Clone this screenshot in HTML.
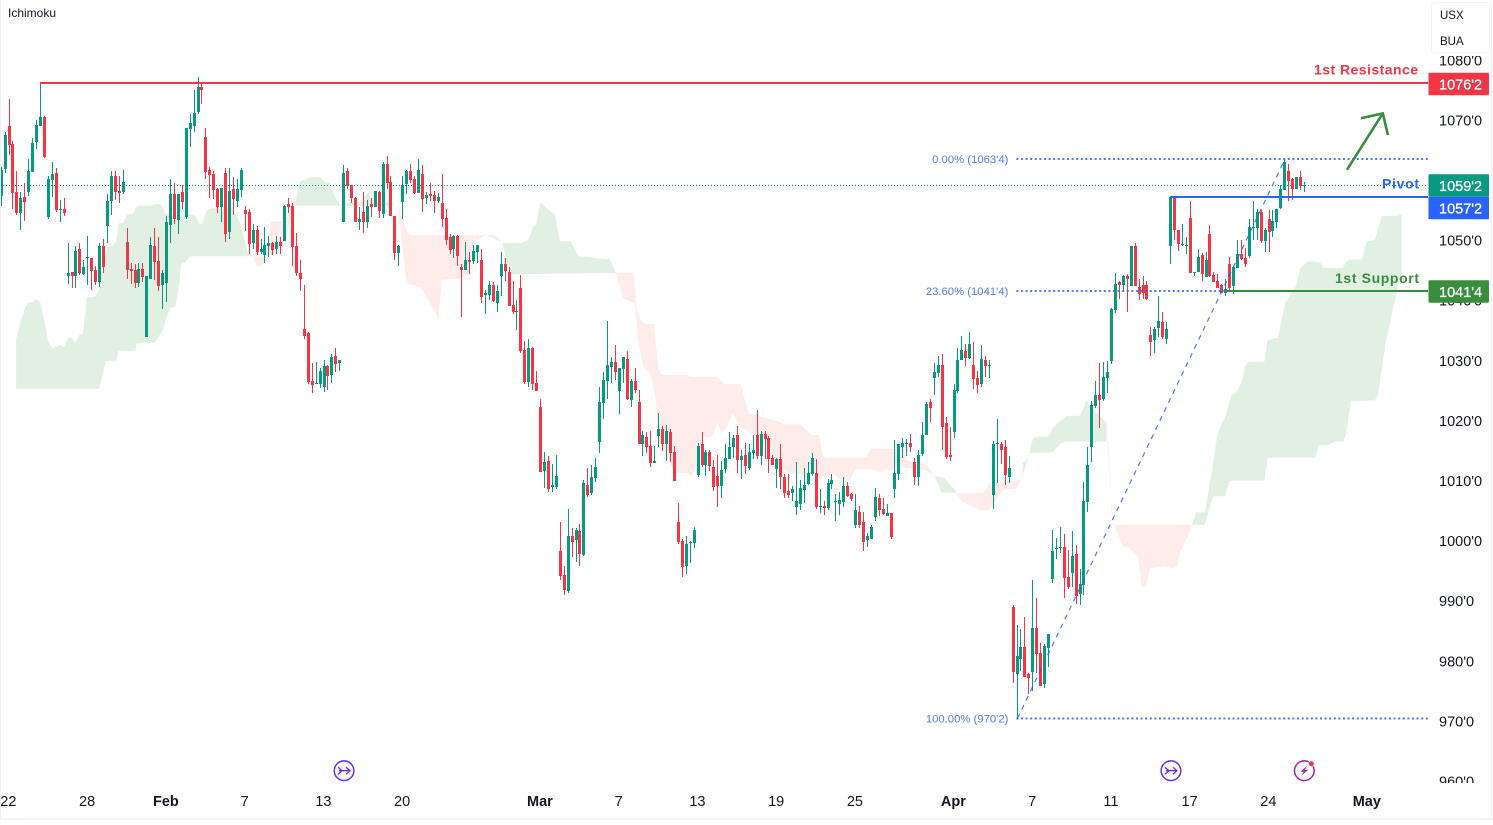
<!DOCTYPE html>
<html lang="en">
<head>
<meta charset="utf-8">
<title>Ichimoku chart</title>
<style>
html,body{margin:0;padding:0;background:#fff;width:1493px;height:825px;overflow:hidden}
svg{display:block}
text{font-family:"Liberation Sans",sans-serif}
</style>
</head>
<body>
<svg id="chart" xmlns="http://www.w3.org/2000/svg" width="1493" height="825" viewBox="0 0 1493 825">
  <defs><clipPath id="axis-clip"><rect x="1429" y="56" width="64" height="727"></rect></clipPath></defs>
  <rect x="0" y="0" width="1493" height="825" fill="#ffffff"></rect>
  <g id="cloud"></g>
  <g id="price-line"></g>
  <g id="candles" shape-rendering="crispEdges"></g>
  <g id="fib"></g>
  <g id="levels"></g>
  <g id="arrow" fill="none" stroke="#388e3c" stroke-width="2.6"></g>
  <g id="y-axis" clip-path="url(#axis-clip)"></g>
  <g id="axis-tags"></g>
  <g id="x-axis"></g>
  <g id="events"></g>
  <text x="8" y="17" font-size="12" fill="#131722">Ichimoku</text>
  <g>
    <rect x="1431.5" y="2.5" width="58" height="50" rx="4" fill="#ffffff" stroke="#f0f3fa"></rect>
    <text x="1440" y="19" font-size="11.5" fill="#131722">USX</text>
    <text x="1440" y="45" font-size="11.5" fill="#131722">BUA</text>
  </g>
  <rect x="0" y="0" width="1" height="819" fill="#eef0f5"></rect>
  <rect x="0" y="818" width="1493" height="2" fill="#f0f3fa"></rect>
  <rect x="1491" y="0" width="1" height="819" fill="#f0f3fa"></rect>
</svg>
<script>
const opens = [
1057.4,1061.9,1069,1066,1058,1054.5,1057.2,1058,1061.3,1066.3,
1069,1070.5,1053.8,1060,1061.2,1055,1055.2,1044,1044.7,1044,
1048.5,1044.3,1047,1047,1045,1043,1049,1052.3,1056.5,1060.7,
1058.2,1058,1049.7,1045.2,1045,1042.8,1045.2,1033.8,1043.5,1049,
1046.5,1042.5,1042.8,1052.5,1057.7,1053.3,1058,1053.8,1068.5,1069,
1071.3,1075.5,1067.2,1061.7,1061,1058.5,1055.5,1061.2,1051.3,1058.5,
1056.5,1058.3,1055,1054.7,1049.5,1051.7,1048,1047.5,1049,1049.5,
1048.5,1049.7,1049.8,1056,1055.7,1049,1044.5,1035.2,1034.5,1026.5,
1026,1026,1025.5,1029,1027.5,1030.7,1029.5,1053,1061.5,1059.2,
1057,1053,1054.7,1053,1056,1055.5,1058,1054.3,1062.7,1059.7,
1054,1047.8,1056.3,1059.3,1061.5,1060.2,1057.8,1061,1057,1057.7,
1057.5,1056.5,1056.2,1053.7,1050.5,1048.5,1050.7,1045.5,1045,1046.7,
1046.5,1048,1046.7,1040.8,1040.8,1042.5,1039.5,1044,1046,1044.7,
1039.2,1038,1042,1031.7,1026.3,1032,1026.2,1022.2,1011.5,1013.2,
1008.8,1008.8,998.2,994.2,991.5,1000.7,1000,1001.5,997.5,1009.2,
1007.8,1010.3,1016.3,1022.8,1026.5,1028.8,1029.7,1024.8,1028.5,1030.2,
1023.3,1026.5,1023,1016,1017.2,1015.7,1012.8,1017.3,1018.5,1016,
1018,1014.7,1003,999.8,995.7,999.5,999.5,1010.8,1016,1012.5,
1014.7,1012.2,1010.7,1009,1011.8,1013.5,1015.5,1017.5,1013.3,1014.2,
1012,1014.5,1017.5,1014,1017.7,1017,1013.7,1011.8,1013.5,1010.5,
1008.2,1007.8,1005.5,1006,1008.3,1009.3,1011,1011.2,1005.5,1005.7,
1005.3,1009.3,1006.3,1006,1006.3,1009,1007.7,1002.5,1004.7,1003,
1000,1000.2,1003.8,1007,1005.2,1004,1004.5,1008.5,1011,1015.5,
1016,1016.2,1013,1010.5,1014.3,1017.5,1023,1027,1027.8,1029.2,
1019.5,1014.2,1018,1024.8,1030,1031.5,1030.3,1029.2,1027,1026,
1030,1029,1007.5,1016,1016,1015.5,1010.5,988.8,977.7,980.2,
982.2,977.7,978,985.3,981.2,976,982,993.5,998.5,998.7,
998.8,993.8,994.5,997.7,991,992.5,1006.3,1015.5,1022.3,1024.2,
1023.5,1027,1029.8,1038.3,1043,1042.5,1044,1042.3,1049,1042.2,
1042.5,1042.5,1034.2,1033.3,1035.3,1036.3,1033.5,1049,1057.2,1051.7,
1049.2,1049,1053.7,1044.5,1044.7,1047.5,1043.8,1051,1044.2,1043.2,
1042.5,1041.2,1046,1042.3,1045.3,1047.7,1047,1047.3,1052,1052,
1054.7,1049.8,1053.5,1051.5,1053,1055.3,1058.3,1061.5,1060.2,1058.5,1060.5,1059];
const closes = [
1061.7,1067.5,1065.8,1057.9,1054.5,1057,1056.3,1061.5,1066.2,1069.2,
1070.5,1063.8,1060.2,1061,1055,1055.2,1054.5,1044.5,1044,1048.2,
1044.5,1045.5,1047.2,1044.8,1043,1049,1045.5,1056.5,1060.7,1058,
1057.8,1059.7,1045,1044.8,1042.8,1045.2,1043.8,1044,1049.2,1046.3,
1042.3,1044.5,1053,1057.7,1053.5,1057.7,1056.3,1068.7,1069.5,1071.2,
1075.5,1075,1061.3,1060.8,1058.3,1055.5,1058.7,1051,1058.2,1056.8,
1058.5,1061.7,1054.3,1049.3,1051.7,1048,1048.5,1049.2,1049.5,1048.3,
1049.7,1049,1055.7,1055.5,1048.8,1044.5,1043.5,1034,1026.3,1025.8,
1026.2,1028.2,1029,1027.3,1030.5,1029.3,1030,1061.2,1059,1057,
1053,1053.5,1053,1055.7,1055.5,1058.2,1054.8,1062.7,1059.5,1054,
1047.8,1049,1059.2,1061.5,1060,1057.8,1061.7,1056.8,1057.5,1057.3,
1056.5,1057.2,1053.5,1050,1048.3,1050.7,1047.3,1045,1046.7,1046.3,
1048.2,1049.2,1040.5,1041.2,1042.5,1039.8,1041.5,1046,1044.8,1039,
1038,1038.2,1031.5,1026.3,1032,1026,1024.8,1011.3,1013,1008.5,
1009.2,1010.7,994,991.7,1000.7,999.7,1001.7,997.7,1009.5,1007.5,
1010.5,1012.2,1023,1026.7,1029.2,1029.7,1028,1028.7,1030.5,1023.5,
1026.5,1025,1016,1017.5,1015.5,1012.8,1013.2,1018.5,1016,1018.2,
1014.5,1009.8,999.7,995.5,999.3,999.7,1001.7,1015.7,1012.5,1014.7,
1012.3,1008.8,1009,1011.7,1013.7,1015.5,1017,1013.3,1014,1012.3,
1014.7,1015,1014,1017.7,1016.8,1013.5,1012.5,1013.5,1010.5,1007.8,
1007.5,1008.5,1006.5,1008.7,1009.2,1011.2,1013.7,1005.5,1005.7,1005.3,
1009.5,1010,1006.5,1006.7,1009,1007.3,1006.8,1005,1002.5,999.7,
1000.7,1002.2,1007.2,1005,1004.3,1004.5,1000.5,1011.2,1016,1016.2,
1016.2,1015.5,1010.5,1014.2,1017.5,1022.7,1022,1028,1029.2,1018.8,
1013.8,1013.8,1025,1030,1031.7,1030.3,1032.7,1026.8,1025.8,1030.2,
1029,1029.2,1016,1016.2,1015,1010.8,1012,978,980.7,982.2,
977.2,977,985.3,981,975.7,982.3,984.3,998.2,998.7,998.8,
993.7,992.2,997.3,990.7,992.7,1006.5,1012.5,1022.5,1024.2,1023.3,
1027.2,1028,1038.5,1042.7,1042.5,1044,1043.5,1049,1042.3,1041,
1041.2,1040.2,1033,1035.2,1036.5,1033.8,1035.2,1057.2,1051.7,1049.3,
1049.3,1049.2,1044.5,1044.7,1047.2,1044.3,1046.7,1044,1043,1042,
1041.2,1041.8,1042,1045.5,1047.7,1046.8,1046,1052.2,1052.2,1054.7,
1049.8,1051.7,1051.3,1053.2,1055.2,1058.5,1063,1059.8,1058.5,1060.5,1059,1059.2];
const highs = [
1062.1,1068,1073.5,1066.5,1061.5,1058,1059.5,1063.5,1067,1070,
1076.3,1070.7,1060.7,1063,1062,1056.7,1057,1049.5,1044.7,1049,
1049.5,1046.7,1050.7,1047,1045.7,1049.5,1050.2,1057.7,1061.5,1061.5,
1060.7,1061.7,1052,1046.2,1046,1046.2,1046.2,1044,1050.5,1052,
1050.5,1045,1054,1060.2,1059.5,1057.7,1059.2,1068.7,1071,1075,
1077.2,1076,1068.7,1062.2,1061.5,1058.7,1058.7,1062,1062,1060.5,
1060.2,1062,1055.7,1055.2,1052.7,1052.3,1050.2,1052.2,1050.7,1049.7,
1050.7,1050.5,1055.8,1057,1056.2,1051.2,1046.7,1042.5,1034.7,1029.5,
1029.7,1028.7,1030,1029.2,1031,1032,1030,1062.5,1062,1059.2,
1057.2,1055.5,1058,1056.7,1057,1058.2,1058.2,1063,1064,1060.7,
1054,1049.2,1060.7,1061.7,1062.7,1060.7,1063.5,1062.5,1058,1059.5,
1058.2,1057.8,1061,1055.2,1051,1050.8,1050.8,1046,1049.7,1048,
1049.2,1049.2,1048.5,1041.7,1043.2,1043,1042.5,1048,1047,1045.5,
1043.2,1040,1044.2,1033.2,1033.5,1032.2,1028.2,1023.5,1014.7,1014,
1012.7,1014.2,1003,995.7,1005.2,1002,1002,1002.7,1010,1012,
1012.5,1013.7,1025.5,1028,1036.5,1030.5,1032.5,1028.7,1030.5,1031.5,
1026.8,1028.7,1025,1018.2,1018,1018.2,1015.7,1021.2,1019,1019.2,
1018.5,1015.7,1006.2,1000.2,1000.7,999.8,1002.2,1016.2,1018,1015,
1015,1013.3,1014.2,1013.2,1016,1018,1017.5,1019,1015,1016.2,
1016,1017.5,1021.7,1018.2,1018.2,1017.3,1014.2,1013.7,1016,1011,
1011,1009,1013,1010,1012,1013,1014.5,1013.5,1008.5,1006.5,
1010.2,1011,1007.7,1008,1010.5,1009.7,1007.8,1007.7,1005.7,1004.7,
1001.2,1002.5,1008.7,1007.7,1007,1006,1004.5,1016.7,1016,1017,
1016.8,1017.7,1013.7,1015,1019.7,1023,1023.5,1029.5,1030.7,1031,
1020.5,1018.8,1026,1032,1034,1032.7,1034.7,1033,1028.2,1032.5,
1030.7,1030,1016.5,1020.2,1016.3,1016.7,1014,989.2,985.8,985.2,
987.2,977.8,993.3,990.3,982.8,982.7,984.3,1001.7,1000.3,1002.2,
1001,998.3,1001.5,999.2,995.2,1009.7,1015.5,1023.2,1026.5,1029.5,
1029.7,1029.8,1038.6,1044.5,1043.2,1044.2,1044.3,1049,1049.5,1043.5,
1044,1043.2,1035.5,1035.5,1040.7,1038,1036.3,1057.3,1057.2,1051.7,
1052.7,1050.5,1056.5,1044.7,1048.5,1047.8,1048,1052.5,1044.7,1044.3,
1042.7,1043.5,1047.2,1045.7,1050,1050,1048.7,1053.5,1056.5,1055.2,
1055,1052,1055,1055,1055.2,1059.2,1063.5,1062.7,1060.3,1060.5,1061.5,1059.7];
const lows = [
1055.6,1061.1,1064.2,1055.2,1054.1,1051.7,1053.2,1057.3,1061.3,1065.2,
1069,1063.7,1053.5,1057.2,1054.7,1053,1054,1042.7,1042,1042,
1044.2,1044.2,1042.5,1041.7,1042.5,1042.2,1044.5,1049.5,1054.2,1056.7,
1056.2,1057.7,1043.5,1042.7,1042,1042.2,1043,1033.8,1043.5,1043.3,
1041.5,1038.5,1039.7,1049.5,1052.7,1051,1055.2,1053.5,1065.5,1068,
1071,1072.7,1060.2,1057,1056.8,1054.5,1053,1049.7,1050.2,1054.2,
1055.5,1057.2,1051.5,1047.7,1048.5,1047.5,1047.7,1046.2,1047.2,1047.5,
1047.7,1047.7,1049.8,1054.5,1045.7,1044,1041.5,1033.5,1026,1024.5,
1026,1025.3,1024.7,1025,1026.2,1028,1028.2,1053,1058.5,1056.2,
1053,1051.7,1051.2,1052,1053.8,1055.5,1053.7,1053.7,1058.5,1054,
1046.7,1045.7,1053.5,1057.7,1059.5,1057.7,1057.8,1054.7,1056,1056.5,
1054.5,1056.2,1052.2,1049.2,1047.7,1047,1045.7,1037.2,1045,1044.3,
1046,1046.2,1039.5,1037.7,1040,1039.7,1038,1040.7,1043.2,1039,
1037.7,1035,1031.2,1026,1025.5,1025,1024.8,1011.3,1008.7,1008,
1008,1008.5,993.3,990.8,991.2,997.2,996.3,995.7,997.3,1007.2,
1007.5,1009.7,1014.5,1020.2,1023.5,1026.2,1026.7,1021,1026.2,1023.3,
1022.2,1024.5,1016,1014,1014.5,1012.2,1012.8,1015.5,1014.8,1013.2,
1013,1009.8,999.3,993.8,994.3,996.2,998.7,1010.5,1012.2,1010.7,
1011.5,1008.2,1005.5,1007,1011.2,1013.5,1013.7,1011.2,1010.2,1011,
1011.7,1013.5,1013.5,1012.5,1013.5,1011.2,1012.5,1008.7,1008.5,1007,
1007,1006.5,1004.2,1005,1006.2,1009.2,1010.7,1005.2,1004.5,1004.2,
1005,1008.5,1003.2,1004.2,1005.5,1007.2,1006.5,1002,1002,998.2,
998.8,1000.2,1003.2,1004,1004.2,1004,1000.2,1007,1010,1013.7,
1014,1014.7,1009.2,1009,1014,1017.5,1019.7,1024.2,1027.2,1015,
1013.5,1013.2,1017,1024.5,1030,1029,1030.2,1025.2,1024.5,1025.5,
1027.2,1027,1005.2,1009.5,1012.7,1009.2,1009.5,976.2,970.2,978.2,
977.2,974.3,974.8,977.8,975.7,975.3,978.8,992.8,996.8,997.8,
990.3,991.8,992.2,989.3,989.2,990.8,1004.7,1013,1022,1018.7,
1023.2,1024.5,1029.4,1037.8,1040.2,1041.7,1038,1042.3,1042.3,1040,
1040.2,1040,1030.7,1031.2,1033.8,1033.5,1032.7,1046,1050,1048.2,
1049,1047.7,1044.5,1044,1044.7,1043.2,1043.8,1043.8,1043,1042,
1041.2,1040.7,1041.5,1041,1045.3,1046.7,1045.5,1047,1050,1050,
1049.5,1048,1048,1050.5,1052,1055.2,1058.3,1056.5,1056.7,1058.5,1058.3,1058];

/* Ichimoku cloud outlines: bar index and price pairs, null separates polygons */
const bullCloudBars = [
3.7,4.7,6,6.7,8,8.8,9.8,10.8,11.8,12.8,13.8,14.9,15.9,16.9,17.9,18.7,19.9,20.7,21.7,23.7,24.8,26.8,28.3,29.1,29.8,30.9,31.9,33.4,34.4,37.7,39,40.5,41.5,44.1,47.9,49.4,50.2,50.9,52.2,53,58.5,60,61.1,62.4,63.9,47.9,46.6,45.6,44.8,44.1,43,42,40.8,38.7,34.4,33.9,29.8,29.1,26.5,24.8,3.7,null,
74.3,75.8,78.4,80.9,82.2,83.4,84.7,86,87.7,91,93.1,94.3,99.2,99.7,null,
127.2,132.1,133.8,134.9,135.8,136.8,138.5,140.6,141.8,144.6,146.5,149,150.3,154.5,156.1,129.1,128,null,
237,239.6,242.7,238.8,null,
259.1,259.4,260.7,262,263,265.8,267,270.5,273.9,275.6,276.4,280.7,280.7,270.1,268.8,267,261.2,null,
302.3,303.5,305.6,306.7,307.7,308.7,309.9,310.7,312.4,313.7,315,315.8,316.7,320.7,321.5,324.2,326,327.7,329,329.8,331.8,334.9,335.6,340.4,342,345.5,346.7,348.8,350.5,354.7,355.6,355.6,353.5,351.4,350.5,349.7,348.8,342.7,341.6,340.8,338.7,336.6,334.6,333.6,321.6,320.7,312.4,311.8,310.7,307.7,305.6];
const bullCloudPrices = [
1033.5,1036.2,1038.7,1039.5,1039.7,1040.2,1039.7,1037,1033.3,1032,1032.2,1032.5,1032.2,1033.7,1033.7,1032.8,1034.3,1034.3,1040.5,1040.5,1041.7,1048.8,1049,1049.7,1052.8,1052.8,1054.3,1054.3,1055.7,1055.7,1056,1056,1054.5,1053.8,1054.3,1054,1052.7,1052.7,1055,1055.3,1055.3,1053.8,1051.7,1048.2,1047.3,1047.3,1046.2,1046,1041.2,1038.8,1038.7,1037.2,1034.7,1032.8,1032.8,1031.5,1031.5,1029.8,1029.8,1025.2,1025.2,null,
1055.7,1059.7,1060.5,1060.5,1059.5,1059.5,1057.2,1055.7,1056.3,1056.3,1058,1056.3,1056.3,1055.7,null,
1049.5,1049.5,1050,1052.2,1052.5,1056.3,1055.3,1054.2,1049.8,1049.8,1047.3,1047.2,1047,1046.8,1044.5,1044.3,1047.2,null,
1010.7,1010.3,1007.9,1007.9,null,
1010.3,1012.8,1013.7,1017,1017.2,1017.2,1018.7,1020.7,1020.7,1023.3,1022.3,1019.5,1016.4,1016.4,1016,1014.6,1014.5,null,
1002.5,1004.6,1004.6,1008.9,1012.8,1017.2,1019.5,1020.3,1024.2,1024.7,1026.4,1028.9,1029.7,1029.7,1033.3,1033.7,1039.5,1041.2,1042.8,1045.3,1046.5,1046.3,1045.4,1045.3,1046.7,1046.8,1049.8,1050,1054,1054,1054.4,1044.7,1038.9,1032.2,1028.3,1024.5,1023.2,1023.2,1018,1016.4,1016.4,1015.8,1015.8,1013.7,1013.7,1009.9,1009.9,1009.7,1007.3,1007.3,1002.5];
const bearCloudBars = [
63.9,67.7,68.4,72,74,72,68.2,66.2,64.9,null,
99.8,101.2,102,102.9,103.7,121.5,123,125.6,127,125.8,123,121.1,119.8,118.8,116.5,111.8,110.9,110.5,106.7,102.9,101.6,100.8,null,
156.1,160.5,161.4,162.2,163.4,165.7,166.8,167.8,174,174.9,181.6,183.7,187.7,189.7,194.3,197.7,198.6,202.8,205.8,207.6,208.7,219.7,220.8,228.9,230,234.5,237,234.5,229.5,226.9,226,224.8,223.5,221,216.8,215.5,213.4,211.3,208.3,206.2,202,199.4,196,195.2,190.1,187.6,185.7,184.2,182.9,181.8,180.8,179.5,178.2,176.1,175,174,171,166.8,166.4,165.9,164.7,163,161.7,160.9,157.9,156.1,null,
242.7,249.3,251,258.7,259.1,257.8,254.3,250.8,248.5,243.9,null,
280.8,281.5,282.4,302.4,299.3,298.7,297.5,295.5,291.7,290.6,289.6,288.6,286.1,284.8,283.2,281.9,281.1];
const bearCloudPrices = [
1047.3,1047.3,1053,1053.2,1055.7,1049.2,1047.3,1045.8,1045.5,null,
1055.5,1054.7,1053.3,1051.4,1050.8,1050.8,1050.9,1050.8,1049.5,1050,1050.9,1050,1050.2,1044.4,1043.6,1043.4,1036.4,1037.5,1042,1042.8,1050,1055,null,
1044.5,1044.6,1038.3,1036.7,1036,1036,1028.6,1027.5,1027.5,1027.2,1027.2,1026,1026,1021.1,1020.3,1019.7,1019.3,1019.3,1017.5,1017.5,1013.7,1013.7,1015.2,1015.2,1013.3,1012.7,1010.8,1011.7,1012,1012.2,1011.5,1011.7,1011.2,1011.8,1011.8,1010,1009.9,1011.1,1010.3,1010.8,1011,1011.4,1013.9,1016.2,1017.9,1018.9,1021,1018.9,1017.8,1019.6,1017.5,1017,1017.5,1011.5,1010.7,1011.2,1011.2,1016.7,1021.7,1025,1027.8,1028.9,1033.3,1039.4,1040.3,1044.3,null,
1007.8,1007.8,1009.5,1010,1010.3,1008.6,1008.3,1004.9,1005,1006.4,null,
1016.4,1008.9,1002.5,1002.5,997.8,995.8,995.2,995.6,995.3,992.2,992.2,997.2,998.8,998.9,1001.4,1004.5,1016.2];

const yTickValues = [1080,1070,1060,1050,1040,1030,1020,1010,1000,990,980,970,960];
const yTickLabels = ["1080'0","1070'0","1060'0","1050'0","1040'0","1030'0","1020'0","1010'0","1000'0","990'0","980'0","970'0","960'0"];
const xTickBars = [2,22,42,62,82,102,137,157,177,197,217,242,262,282,302,322,347];
const xTickLabels = ["22","28","Feb","7","13","20","Mar","7","13","19","25","Apr","7","11","17","24","May"];
const xTickMajor = ["Feb","Mar","Apr","May"];

const levelNames = ["1st Resistance","Pivot","1st Support"];
const levelPrices = [1076.25,1057.25,1041.5];
const levelStartBars = [10,297,311];
const levelColors = ["#f23645","#2962ff","#388e3c"];
const levelLabelStarts = [1314,1382,1335];
const levelLabelWidths = [104,37,84];

const currentPrice = 1059.25;
const axisTagPrices = [1076.25,1059.25,1057.25,1041.5];
const axisTagLabels = ["1076'2","1059'2","1057'2","1041'4"];
const axisTagColors = ["#f23645","#089981","#2962ff","#388e3c"];
const axisTagOffsets = [1.5,1,11.5,0.5];

const fibPrices = [1063.5,1041.5,970.25];
const fibLabels = ["0.00% (1063'4)","23.60% (1041'4)","100.00% (970'2)"];
const fibStartBar = 258;
const fibEndBar = 326;

const arrowShaftBars = [341.7,350.8];
const arrowShaftPrices = [1061.7,1071.1];
const arrowHeadBars = [345.3,350.8,352.1];
const arrowHeadPrices = [1070.3,1071.1,1067.5];

const splitEventBars = [87,297];
const earningsEventBar = 331;

const SVG_NS = 'http://www.w3.org/2000/svg';
const PLOT_RIGHT = 1428;
const BAR_STEP = 3.9375;
const xScale = b => 1.5 + b * BAR_STEP;
const xColumn = b => Math.floor(1.16 + b * BAR_STEP);
const yScale = p => 120 + (1070 - p) * 6;
const yLabelScale = p => 120 + (1070 - p) * 6.01;

function make(tag, attrs, parent, text) {
  const node = document.createElementNS(SVG_NS, tag);
  for (const k in attrs) node.setAttribute(k, attrs[k]);
  if (text !== undefined) node.textContent = text;
  parent.appendChild(node);
  return node;
}

/* cloud */
function drawCloud(bars, prices, fill, name, parent) {
  let pts = [];
  const flush = () => {
    if (!pts.length) return;
    const poly = make('polygon', {points: pts.join(' '), fill: fill}, parent);
    
    
    pts = [];
  };
  bars.forEach((b, i) => {
    if (b === null) { flush(); return; }
    pts.push(xScale(b).toFixed(1) + ',' + yScale(prices[i]).toFixed(1));
  });
  flush();
}
const cloudGroup = document.getElementById('cloud');
drawCloud(bullCloudBars, bullCloudPrices, '#e2f0e4', 'cloud-bullish', cloudGroup);
drawCloud(bearCloudBars, bearCloudPrices, '#fdecea', 'cloud-bearish', cloudGroup);

/* current price dotted line */
const priceLine = make('line', {x1: 0, x2: PLOT_RIGHT, y1: Math.round(yScale(currentPrice)) + 0.5, y2: Math.round(yScale(currentPrice)) + 0.5, stroke: '#089981', 'stroke-width': 1, 'stroke-dasharray': '1 2'}, document.getElementById('price-line'));



/* candles */
const candleGroup = document.getElementById('candles');
opens.forEach((o, i) => {
  const c = closes[i];
  const col = xColumn(i);
  const color = c >= o ? '#089981' : '#f23645';
  const g = make('g', {fill: color}, candleGroup);
  
  
  const yh = Math.round(yScale(highs[i]));
  const yl = Math.round(yScale(lows[i]));
  const yt = Math.round(yScale(Math.max(o, c)));
  const yb = Math.round(yScale(Math.min(o, c)));
  make('rect', {x: col, y: yh, width: 1, height: Math.max(1, yl - yh)}, g);
  make('rect', {x: col - 1, y: yt, width: 3, height: Math.max(1, yb - yt)}, g);
});

/* fibonacci */
const fibGroup = document.getElementById('fib');
const trend = make('line', {x1: xScale(fibStartBar), y1: yScale(fibPrices[2]), x2: xScale(fibEndBar), y2: yScale(fibPrices[0]), stroke: '#2962ff', 'stroke-width': 1.2, 'stroke-dasharray': '5 5', opacity: 0.85}, fibGroup);


fibPrices.forEach((p, i) => {
  const line = make('line', {x1: xScale(fibStartBar) - 1, x2: PLOT_RIGHT, y1: yScale(p), y2: yScale(p), stroke: '#2962ff', 'stroke-width': 2, 'stroke-dasharray': '2 2.6', opacity: 0.85}, fibGroup);
  
  
  const label = make('text', {x: xScale(fibStartBar) - 9, y: yScale(p) + 4, 'text-anchor': 'end', 'font-size': 11.3, fill: '#4f7bfa'}, fibGroup, fibLabels[i]);
  
  
});

/* levels */
const levelGroup = document.getElementById('levels');
levelPrices.forEach((p, i) => {
  const lineY = Math.round(yScale(p));
  const line = make('line', {x1: xColumn(levelStartBars[i]), x2: PLOT_RIGHT, y1: lineY, y2: lineY, stroke: levelColors[i], 'stroke-width': 2, 'shape-rendering': 'crispEdges'}, levelGroup);
  
  
  const label = make('text', {x: levelLabelStarts[i], y: yScale(p) - 8, 'font-size': 14, 'font-weight': 'bold', fill: levelColors[i], textLength: levelLabelWidths[i], lengthAdjust: 'spacing'}, levelGroup, levelNames[i]);
  
  
});

/* arrow */
const arrowGroup = document.getElementById('arrow');
const shaft = make('polyline', {points: arrowShaftBars.map((b, i) => xScale(b) + ',' + yScale(arrowShaftPrices[i])).join(' ')}, arrowGroup);


const head = make('polyline', {points: arrowHeadBars.map((b, i) => xScale(b) + ',' + yScale(arrowHeadPrices[i])).join(' ')}, arrowGroup);



/* y axis */
const yAxis = document.getElementById('y-axis');
yTickValues.forEach((v, i) => {
  const t = make('text', {x: 1439, y: yLabelScale(v) + 5.4, 'font-size': 14.5, fill: '#131722'}, yAxis, yTickLabels[i]);
  
  
});

/* axis tags */
const tagGroup = document.getElementById('axis-tags');
axisTagPrices.forEach((p, i) => {
  const cy = yScale(p) + axisTagOffsets[i];
  const box = make('rect', {x: 1428.5, y: cy - 11.25, width: 60.5, height: 22.5, rx: 1, fill: axisTagColors[i]}, tagGroup);
  
  
  const t = make('text', {x: 1439, y: cy + 5.4, 'font-size': 14.5, fill: '#ffffff', stroke: '#ffffff', 'stroke-width': 0.3}, tagGroup, axisTagLabels[i]);
  
  
});

/* x axis */
const xAxis = document.getElementById('x-axis');
xTickBars.forEach((b, i) => {
  const label = xTickLabels[i];
  const attrs = {x: xScale(b) - 1, y: 806, 'text-anchor': 'middle', 'font-size': 14.5, fill: '#131722'};
  if (xTickMajor.includes(label)) attrs['font-weight'] = 'bold';
  const t = make('text', attrs, xAxis, label);
  
  
});

/* event markers */
const eventGroup = document.getElementById('events');
splitEventBars.forEach(b => {
  const g = make('g', {transform: 'translate(' + xScale(b) + ' 770.7)', fill: 'none', stroke: '#6a2cf5', 'stroke-width': 1.5}, eventGroup);
  
  
  make('circle', {r: 9.8}, g);
  make('path', {d: 'M-6 -3.5 L-2 0 L-6 3.5 M-5 0 H6 M2 -3.5 L6 0 L2 3.5', 'stroke-width': 1.3}, g);
});
const bolt = make('g', {transform: 'translate(' + (xScale(earningsEventBar) - 0.5) + ' 770.7)', fill: 'none', stroke: '#9c27b0', 'stroke-width': 1.5}, eventGroup);


make('circle', {r: 9.8}, bolt);
make('path', {d: 'M3 -5 L-4 1 H-0.5 L-3 5 L4 -1 H0.5 Z', fill: '#9c27b0', stroke: 'none'}, bolt);
make('circle', {cx: 7, cy: -7, r: 2.8, fill: '#f23645', stroke: '#ffffff', 'stroke-width': 0.6}, bolt);
</script>
</body>
</html>
